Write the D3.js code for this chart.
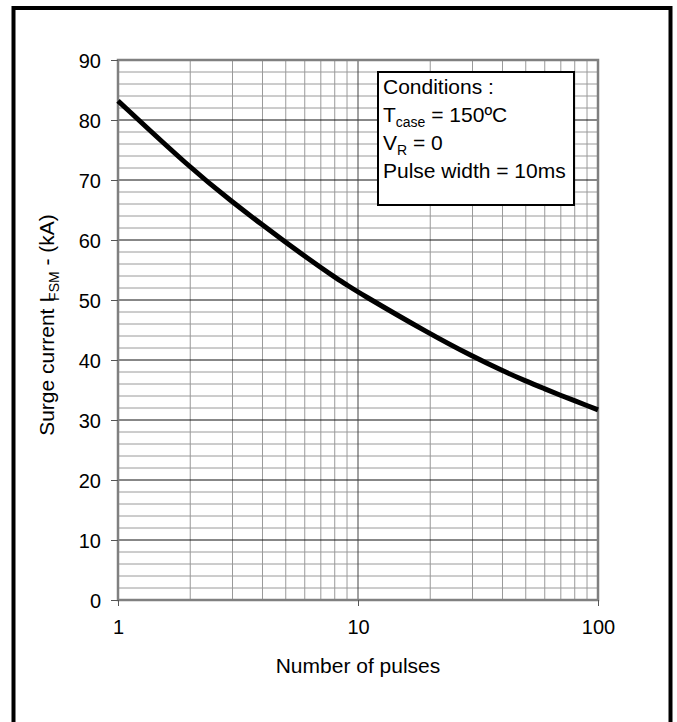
<!DOCTYPE html>
<html>
<head>
<meta charset="utf-8">
<script src="https://cdn.jsdelivr.net/npm/d3@7"></script>
<style>
  body { margin: 0; background: #fff; }
  text { font-family: "Liberation Sans", Arial, sans-serif; fill: #000; }
</style>
</head>
<body>
<div id="chart"></div>
<script>
// curve
var pulses = [1, 2, 3, 4, 5, 6, 7, 8, 9, 10, 20, 30, 40, 50, 60, 70, 80, 90, 100];
var surgeKA = [83.2, 72.0, 66.3, 62.5, 59.6, 57.3, 55.4, 53.8, 52.5, 51.3, 44.3, 40.6, 38.2, 36.5, 35.2, 34.1, 33.2, 32.4, 31.7];
var yTicks = [0, 10, 20, 30, 40, 50, 60, 70, 80, 90];
var xTicks = [1, 10, 100];

var svgWidth = 677, svgHeight = 722;
var margin = { top: 60, right: 79, bottom: 122, left: 118 };
var width = svgWidth - margin.left - margin.right;
var height = svgHeight - margin.top - margin.bottom;

var svg = d3.select("#chart").append("svg")
  .attr("width", svgWidth)
  .attr("height", svgHeight);

// outer frame (bottom edge is cut off)
svg.append("rect")
  .attr("x", 13.5).attr("y", 8)
  .attr("width", 657).attr("height", 760)
  .attr("fill", "none").attr("stroke", "#000").attr("stroke-width", 4);

var chartGroup = svg.append("g")
  .attr("transform", `translate(${margin.left}, ${margin.top})`);

var x = d3.scaleLog().domain([1, 100]).range([0, width]);
var y = d3.scaleLinear().domain([0, 90]).range([height, 0]);

// minor horizontal grid every 2 kA
var minorY = d3.range(2, 90, 2).filter(d => d % 10 !== 0);
chartGroup.selectAll(".hminor").data(minorY).enter().append("line")
  .attr("x1", 0).attr("x2", width)
  .attr("y1", d => y(d)).attr("y2", d => y(d))
  .attr("stroke", "#9a9a9a").attr("stroke-width", 1);

// minor vertical grid
var minorX = [];
[1, 10].forEach(function(dec) {
  for (var k = 2; k <= 9; k++) minorX.push(dec * k);
});
chartGroup.selectAll(".vminor").data(minorX).enter().append("line")
  .attr("x1", d => x(d)).attr("x2", d => x(d))
  .attr("y1", 0).attr("y2", height)
  .attr("stroke", "#9a9a9a").attr("stroke-width", 1);

// major grid
chartGroup.selectAll(".hmajor").data(yTicks.slice(1, -1)).enter().append("line")
  .attr("x1", 0).attr("x2", width)
  .attr("y1", d => y(d)).attr("y2", d => y(d))
  .attr("stroke", "#111").attr("stroke-width", 1);
chartGroup.append("line")
  .attr("x1", x(10)).attr("x2", x(10))
  .attr("y1", 0).attr("y2", height)
  .attr("stroke", "#444").attr("stroke-width", 1);

// plot border
chartGroup.append("rect")
  .attr("width", width).attr("height", height)
  .attr("fill", "none").attr("stroke", "#808080").attr("stroke-width", 2.5);

// axes
var leftAxis = d3.axisLeft(y).tickValues(yTicks).tickSize(7).tickPadding(10);
var bottomAxis = d3.axisBottom(x).tickValues(xTicks).tickFormat(d3.format("d")).tickSize(6).tickPadding(14);

var gy = chartGroup.append("g").call(leftAxis);
var gx = chartGroup.append("g").attr("transform", `translate(0, ${height})`).call(bottomAxis);
[gy, gx].forEach(function(g) {
  g.select(".domain").remove();
  g.selectAll(".tick line").attr("stroke", "#555");
  g.selectAll(".tick text")
    .style("font-family", "'Liberation Sans', Arial, sans-serif")
    .style("font-size", "20px").attr("fill", "#000");
});
gy.selectAll(".tick text").attr("dy", "0.36em");

// curve
var line = d3.line()
  .x((d, i) => x(pulses[i]))
  .y(d => y(d))
  .curve(d3.curveBasis);
chartGroup.append("path")
  .datum(surgeKA)
  .attr("d", line)
  .attr("fill", "none").attr("stroke", "#000").attr("stroke-width", 5)
  .attr("stroke-linejoin", "round");

// conditions box
var box = chartGroup.append("g").attr("transform", "translate(260, 12)");
box.append("rect")
  .attr("width", 196).attr("height", 133)
  .attr("fill", "#fff").attr("stroke", "#000").attr("stroke-width", 2);
box.append("text").style("font-size", "21px").attr("x", 5).attr("y", 22).text("Conditions :");
var t2 = box.append("text").style("font-size", "21px").attr("x", 5).attr("y", 50);
t2.append("tspan").text("T");
t2.append("tspan").attr("dy", 5).style("font-size", "14px").text("case");
t2.append("tspan").attr("dy", -5).text(" = 150ºC");
var t3 = box.append("text").style("font-size", "21px").attr("x", 5).attr("y", 78);
t3.append("tspan").text("V");
t3.append("tspan").attr("dy", 5).style("font-size", "14px").text("R");
t3.append("tspan").attr("dy", -5).text(" = 0");
box.append("text").style("font-size", "21px").attr("x", 5).attr("y", 106).text("Pulse width = 10ms");

// axis labels
chartGroup.append("text")
  .attr("x", width / 2).attr("y", height + 73)
  .attr("text-anchor", "middle")
  .style("font-size", "21px")
  .text("Number of pulses");

var yl = svg.append("text")
  .attr("transform", `translate(54, ${margin.top + height / 2 - 5}) rotate(-90)`)
  .attr("text-anchor", "middle")
  .style("font-size", "21px");
yl.append("tspan").text("Surge current I");
yl.append("tspan").attr("dx", -4).attr("dy", 5).style("font-size", "14px").text("FSM");
yl.append("tspan").attr("dy", -5).text(" - (kA)");
</script>
</body>
</html>
